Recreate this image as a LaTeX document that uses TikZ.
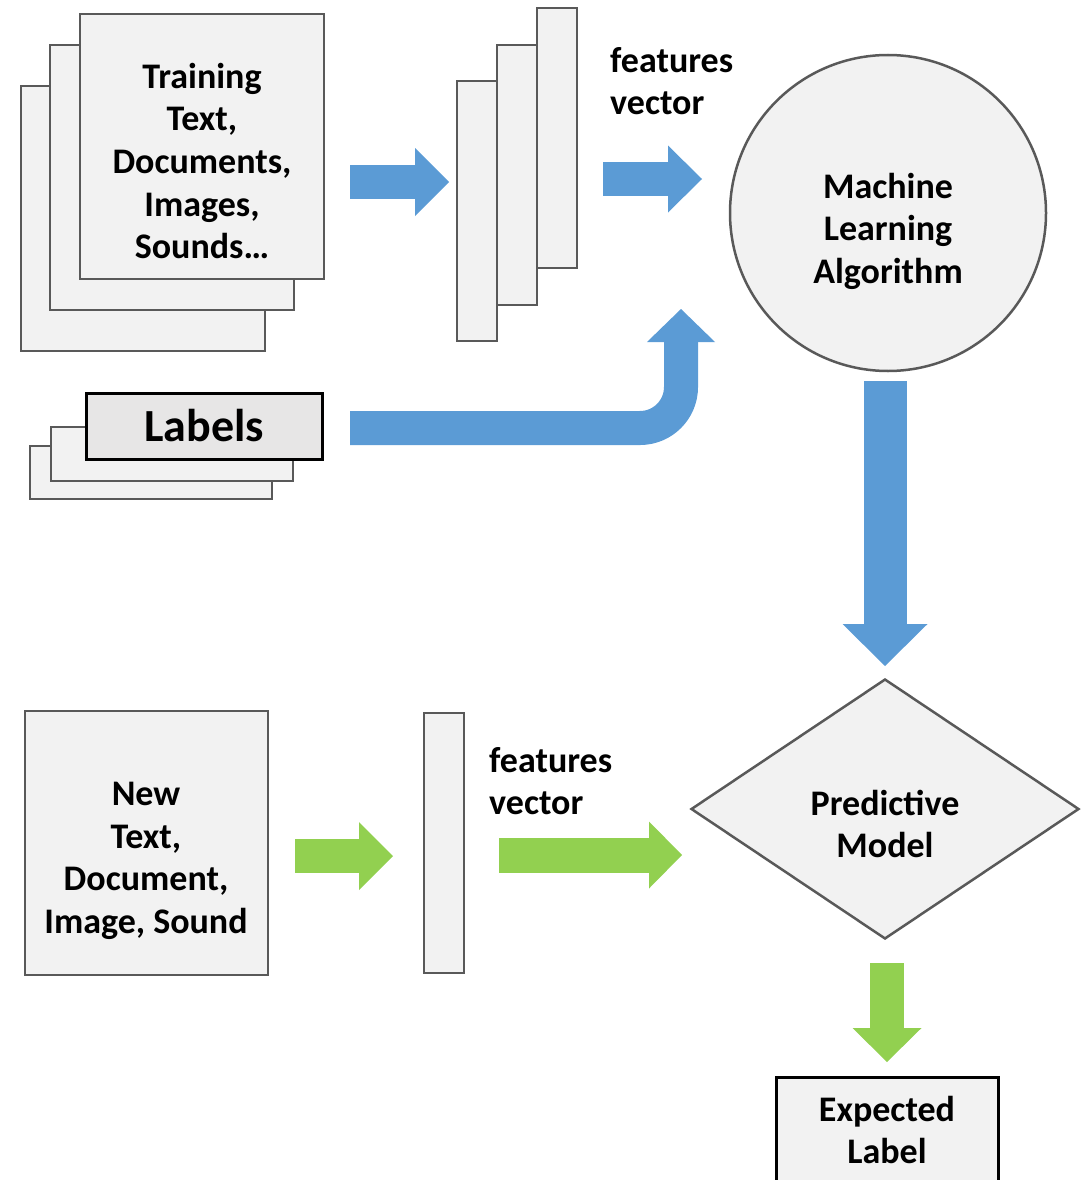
\documentclass[tikz,border=0pt]{standalone}
\usepackage{fontspec}
\setmainfont{Carlito}
\usetikzlibrary{arrows.meta,shapes.geometric}

\definecolor{edgegray}{HTML}{595959}
\definecolor{cardgray}{HTML}{F2F2F2}
\definecolor{tabgray}{HTML}{E7E6E6}
\definecolor{flowblue}{HTML}{5B9BD5}
\definecolor{flowgreen}{HTML}{92D050}

\tikzset{
  card/.style={draw=edgegray, fill=cardgray, line width=2.5pt, inner sep=0pt,
    outer sep=0pt, anchor=north west},
  darkcard/.style={card, draw=black, line width=3pt},
  caption/.style={font=\bfseries\fontsize{36}{42.5}\selectfont, align=center,
    inner sep=0pt},
  bigcaption/.style={font=\bfseries\fontsize{46}{52}\selectfont},
  fat/.style n args={4}{draw=#1, line width=#2,
    -{Triangle[length=#3, width=#4, line width=0pt]}},
}

\begin{document}
\begin{tikzpicture}[x=1pt, y=-1pt]
\useasboundingbox (0,0) rectangle (1081,1180);

% training documents, stacked
\node[card, minimum width=244pt, minimum height=265pt] (train1) at (21,86) {};
\node[card, minimum width=244pt, minimum height=265pt] (train2) at (50,45) {};
\node[card, minimum width=244pt, minimum height=265pt] (train3) at (80,14) {};
\node[caption] (traintext) at (202,161)
  {Training\\Text,\\Documents,\\Images,\\Sounds\dots};

% feature vectors of the training set
\node[card, minimum width=40pt, minimum height=260pt] (vec1) at (457,81) {};
\node[card, minimum width=40pt, minimum height=260pt] (vec2) at (497,45) {};
\node[card, minimum width=40pt, minimum height=260pt] (vec3) at (537,8) {};
\node[caption, align=left, anchor=west] (fvtop) at (610,81) {features\\vector};

% labels, stacked
\node[card, minimum width=242pt, minimum height=53pt] (lab1) at (30,446) {};
\node[card, minimum width=242pt, minimum height=54pt] (lab2) at (51,427) {};
\node[darkcard, fill=tabgray, minimum width=236pt, minimum height=66pt,
  bigcaption] (lab3) at (86,393) {Labels};

% learning algorithm
\node[circle, draw=edgegray, fill=cardgray, line width=2.5pt, inner sep=0pt,
  minimum size=316pt] (ml) at (888,213) {};
\node[caption] (mltext) at (888,231) {Machine\\Learning\\Algorithm};

% predictive model
\node[diamond, draw=edgegray, fill=cardgray, line width=2.5pt, inner sep=0pt,
  minimum width=388pt, minimum height=260pt] (pm) at (885,809) {};
\node[caption] (pmtext) at (885,824) {Predictive\\Model};

% new sample and its feature vector
\node[card, minimum width=243pt, minimum height=264pt] (new) at (25,711) {};
\node[caption] (newtext) at (146,861) {New\\Text,\\Document,\\Image, Sound};
\node[card, minimum width=40pt, minimum height=260pt] (nvec) at (424,713) {};
\node[caption, align=left, anchor=west] (fvbottom) at (489,781) {features\\vector};

% expected label
\node[darkcard, minimum width=222pt, minimum height=110pt] (exp) at (776,1077) {};
\node[caption] (exptext) at (887,1130) {Expected\\Label};

% free ends of the block arrows
\coordinate (a1s) at (350,182);
\coordinate (a1e) at (449,182);
\coordinate (a2s) at (603,179);
\coordinate (a2e) at (702,179);
\coordinate (a3s) at (350,428);
\coordinate (a3c) at (681,428);
\coordinate (a3e) at (681,309);
\coordinate (a4s) at (885,381);
\coordinate (a4e) at (885,666);
\coordinate (a5s) at (295,856);
\coordinate (a5e) at (393,856);
\coordinate (a6s) at (499,855);
\coordinate (a6e) at (682,855);
\coordinate (a7s) at (887,963);
\coordinate (a7e) at (887,1062);

% training flow
\draw[fat={flowblue}{34pt}{34pt}{68pt}] (a1s) -- (a1e);
\draw[fat={flowblue}{34pt}{34pt}{67pt}] (a2s) -- (a2e);
\draw[fat={flowblue}{34pt}{33pt}{68pt}, rounded corners=41pt]
  (a3s) -- (a3c) -- (a3e);
\draw[fat={flowblue}{43pt}{42pt}{85pt}] (a4s) -- (a4e);

% prediction flow
\draw[fat={flowgreen}{34pt}{34pt}{68pt}] (a5s) -- (a5e);
\draw[fat={flowgreen}{35pt}{33pt}{67pt}] (a6s) -- (a6e);
\draw[fat={flowgreen}{34pt}{34pt}{69pt}] (a7s) -- (a7e);
\end{tikzpicture}
\end{document}
